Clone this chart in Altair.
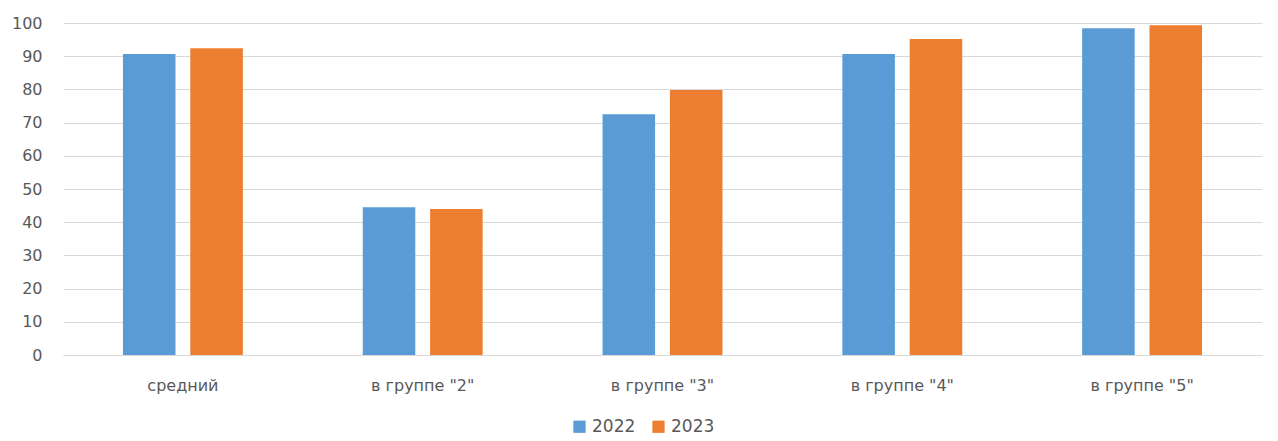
import altair as alt
import pandas as pd

categories = ["средний", 'в группе "2"', 'в группе "3"', 'в группе "4"', 'в группе "5"']
years = ["2022", "2023"]
values_2022 = [90.7, 44.5, 72.5, 90.7, 98.4]
values_2023 = [92.4, 44.0, 79.8, 95.2, 99.3]

rows = []
for c, a, b in zip(categories, values_2022, values_2023):
    rows.append({"cat": c, "year": years[0], "val": a})
    rows.append({"cat": c, "year": years[1], "val": b})
df = pd.DataFrame(rows)

font = "DejaVu Sans"
grey = "#595959"

chart = alt.Chart(df).mark_bar().encode(
    x=alt.X("cat:N", sort=categories,
            scale=alt.Scale(paddingInner=0.5, paddingOuter=0.25),
            axis=alt.Axis(title=None, labelAngle=0, ticks=False, domainColor="#d9d9d9",
                          labelPadding=22, labelFontSize=16, labelColor=grey, labelFont=font)),
    xOffset=alt.XOffset("year:N", sort=years, scale=alt.Scale(paddingInner=0.22, paddingOuter=0)),
    y=alt.Y("val:Q", scale=alt.Scale(domain=[0, 100], nice=False),
            axis=alt.Axis(title=None, values=list(range(0, 101, 10)), domain=False, ticks=False,
                          gridColor="#d9d9d9", labelPadding=21, labelFontSize=16,
                          labelColor=grey, labelFont=font)),
    color=alt.Color("year:N", sort=years,
                    scale=alt.Scale(domain=years, range=["#5b9bd5", "#ed7d31"]),
                    legend=alt.Legend(title=None, orient="none", direction="horizontal",
                                      legendX=508, legendY=395, symbolType="square",
                                      symbolSize=150, symbolStrokeWidth=0, labelFontSize=17,
                                      labelColor=grey, labelFont=font, columnPadding=14,
                                      labelOffset=4)),
).properties(
    width=1199, height=332,
    autosize=alt.AutoSizeParams(type="none"),
    padding={"left": 55, "top": 15, "right": 8, "bottom": 86},
).configure_view(stroke=None)

chart.save("out.html", embed_options={"renderer": "svg", "actions": False})
